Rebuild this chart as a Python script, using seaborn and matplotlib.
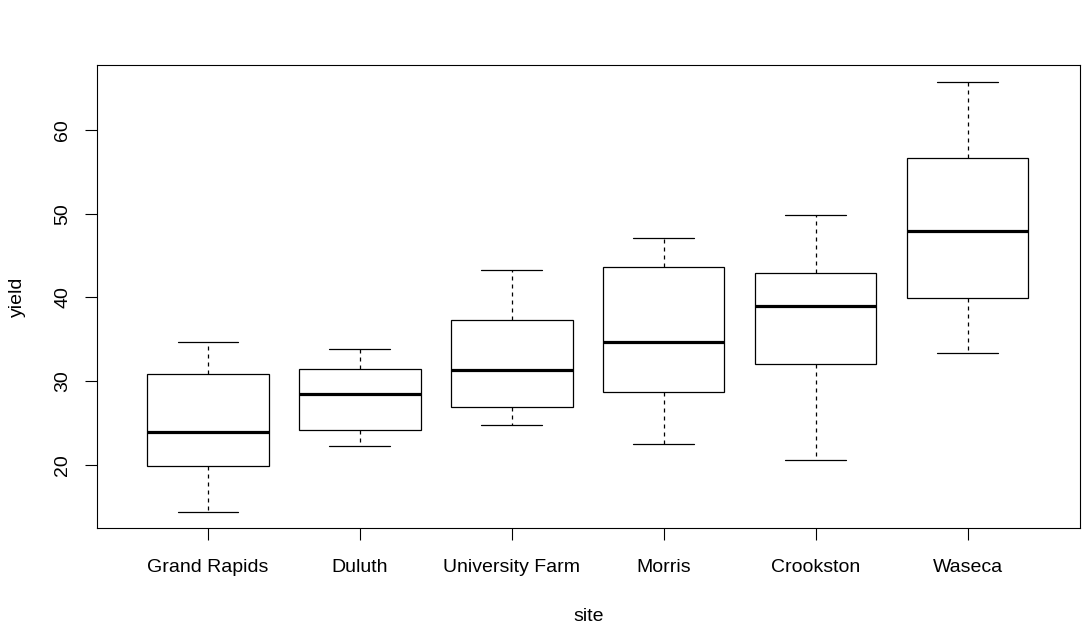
import matplotlib
matplotlib.use("Agg")
import matplotlib.pyplot as plt
import seaborn as sns
import pandas as pd

sites = ["Grand Rapids", "Duluth", "University Farm", "Morris", "Crookston", "Waseca"]
# five-number summaries (min, q1, median, q3, max)
grand_rapids = [14.4, 19.8, 23.9, 30.9, 34.7]
duluth = [22.2, 24.2, 28.5, 31.4, 33.9]
university_farm = [24.7, 26.9, 31.3, 37.3, 43.3]
morris = [22.5, 28.7, 34.7, 43.6, 47.1]
crookston = [20.6, 32.1, 39.0, 42.9, 49.9]
waseca = [33.4, 39.9, 47.9, 56.7, 65.7]
yield_ticks = [20, 30, 40, 50, 60]

values = [grand_rapids, duluth, university_farm, morris, crookston, waseca]
df = pd.DataFrame(
    [(s, v) for s, vals in zip(sites, values) for v in vals],
    columns=["site", "yield"],
)

sns.set_style("white")
plt.rcParams["font.family"] = ["Liberation Sans", "DejaVu Sans"]
plt.rcParams["text.color"] = "black"
plt.rcParams["axes.labelcolor"] = "black"

fig = plt.figure(figsize=(10.91, 6.35), dpi=100)
ax = fig.add_axes([97 / 1091, 1 - 528 / 635, (1080 - 97) / 1091, (528 - 65) / 635])

sns.boxplot(
    data=df, x="site", y="yield", order=sites, ax=ax,
    color="white", linecolor="black", linewidth=0.9, width=0.8,
    showfliers=False,
    whiskerprops=dict(linestyle=(0, (3.2, 3.2))),
    medianprops=dict(linewidth=2.3),
)

ax.set_xlim(-0.73, 5.74)
ax.set_ylim(12.45, 67.78)
ax.set_yticks(yield_ticks)
ax.set_yticklabels([str(t) for t in yield_ticks], rotation=90, va="center")

for sp in ax.spines.values():
    sp.set_visible(True)
    sp.set_color("black")
    sp.set_linewidth(0.8)

ax.tick_params(axis="both", direction="out", length=8.6, width=0.8,
               colors="black", labelcolor="black", labelsize=14, pad=10,
               left=True, bottom=True)
ax.tick_params(axis="x", pad=13.5)

ax.set_xlabel("site", fontsize=14, color="black")
ax.set_ylabel("yield", fontsize=14, color="black")
ax.xaxis.set_label_coords(0.5, -0.172)
ax.yaxis.set_label_coords(-0.072, 0.5)

fig.savefig("out.png", dpi=100)
